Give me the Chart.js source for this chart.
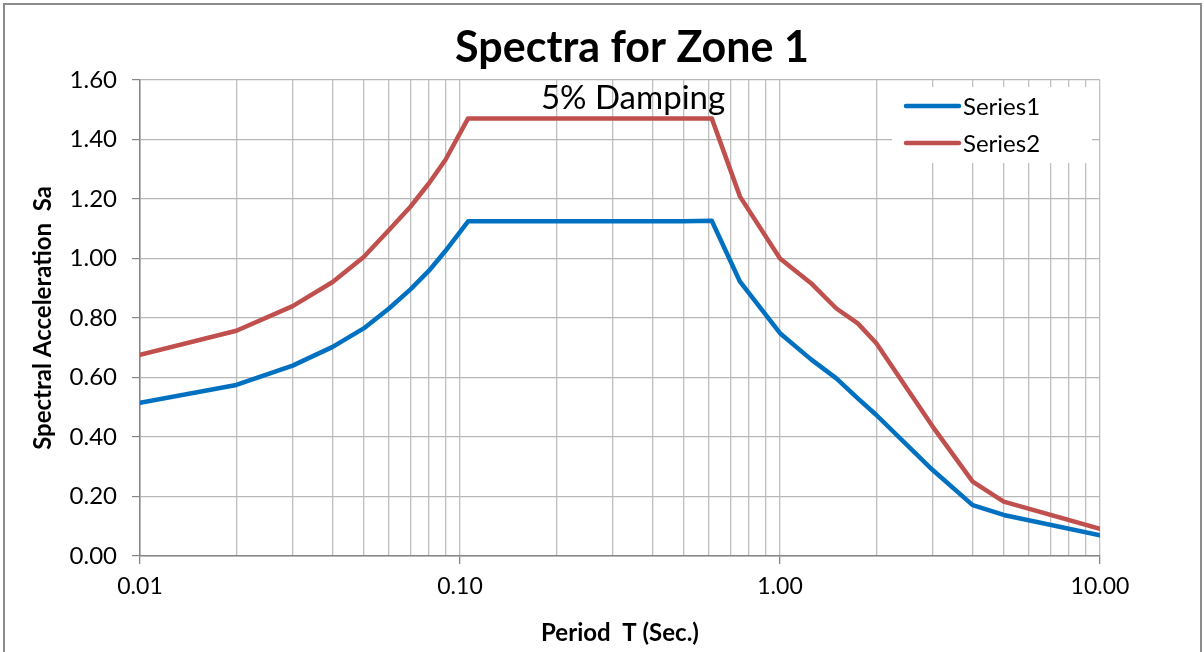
<!DOCTYPE html>
<html>
<head>
<meta charset="utf-8">
<script src="https://cdn.jsdelivr.net/npm/chart.js@4.4.1/dist/chart.umd.min.js"></script>
<style>
  html, body { margin: 0; padding: 0; background: #ffffff; }
  #wrap { position: relative; width: 1204px; height: 652px; }
  canvas { display: block; }
</style>
</head>
<body>
<div id="wrap"><canvas id="c" width="1204" height="652"></canvas></div>
<script>
// ---- Data ----
const periods = [0.01, 0.02, 0.03, 0.04, 0.05, 0.06, 0.07, 0.08, 0.09, 0.106, 0.2, 0.3, 0.4, 0.5, 0.612, 0.75, 1.0, 1.25, 1.5, 1.75, 2.0, 3.0, 4.0, 5.0, 10.0];
const series1 = [0.515, 0.575, 0.640, 0.703, 0.765, 0.832, 0.896, 0.959, 1.025, 1.125, 1.125, 1.125, 1.125, 1.125, 1.127, 0.922, 0.749, 0.661, 0.597, 0.530, 0.474, 0.289, 0.171, 0.138, 0.070];
const series2 = [0.676, 0.757, 0.840, 0.921, 1.005, 1.096, 1.174, 1.253, 1.331, 1.471, 1.471, 1.471, 1.471, 1.471, 1.471, 1.208, 1.000, 0.917, 0.832, 0.782, 0.715, 0.435, 0.250, 0.183, 0.091];
const seriesNames = ['Series1', 'Series2'];
const xTickValues = [0.01,0.02,0.03,0.04,0.05,0.06,0.07,0.08,0.09,
                     0.1,0.2,0.3,0.4,0.5,0.6,0.7,0.8,0.9,
                     1,2,3,4,5,6,7,8,9,10];
const xMajorTicks = [0.01, 0.1, 1, 10];
const titleText = 'Spectra for Zone 1';
const subtitleText = '5% Damping';
const xTitle = 'Period  T (Sec.)';
const yTitle = 'Spectral Acceleration  Sa';

const FONT = 'Lato, "Open Sans", sans-serif';
const colors = ['#0070C0', '#C0504D'];

function isMajor(v) { return xMajorTicks.some(m => Math.abs(m - v) < 1e-9); }

const framePlugin = {
  id: 'frame',
  beforeDraw(chart) {
    const ctx = chart.ctx;
    ctx.save();
    ctx.fillStyle = '#ffffff';
    ctx.fillRect(0, 0, chart.width, chart.height);
    ctx.strokeStyle = '#8c8c8c';
    ctx.lineWidth = 2;
    ctx.strokeRect(4, 4, 1197, 700);
    ctx.restore();
  },
  afterDraw(chart) {
    const ctx = chart.ctx;
    ctx.save();
    // title
    ctx.fillStyle = '#000000';
    ctx.font = 'bold 43px ' + FONT;
    ctx.textAlign = 'center';
    ctx.textBaseline = 'alphabetic';
    ctx.fillText(titleText, 632, 62);
    // subtitle
    ctx.font = '33px ' + FONT;
    ctx.fillText(subtitleText, 633, 109);
    // legend
    ctx.fillStyle = '#ffffff';
    ctx.fillRect(892, 87, 200, 76);
    const rows = [106, 143];
    seriesNames.forEach((name, i) => {
      ctx.strokeStyle = colors[i];
      ctx.lineWidth = 4.5;
      ctx.lineCap = 'round';
      ctx.beginPath();
      ctx.moveTo(906, rows[i]);
      ctx.lineTo(959, rows[i]);
      ctx.stroke();
      ctx.fillStyle = '#000000';
      ctx.font = '24px ' + FONT;
      ctx.textAlign = 'left';
      ctx.textBaseline = 'middle';
      ctx.fillText(name, 963, rows[i] + 1);
    });
    ctx.restore();
  }
};

const datasets = [series1, series2].map((vals, i) => ({
  label: seriesNames[i],
  data: periods.map((p, k) => ({ x: p, y: vals[k] })),
  borderColor: colors[i],
  backgroundColor: colors[i],
  borderWidth: 4.5,
  pointRadius: 0,
  tension: 0,
  fill: false,
  borderCapStyle: 'round',
  borderJoinStyle: 'round'
}));

new Chart(document.getElementById('c'), {
  type: 'line',
  data: { datasets },
  plugins: [framePlugin],
  options: {
    responsive: false,
    animation: false,
    devicePixelRatio: 1,
    layout: { padding: { left: 0, right: 104, top: 80, bottom: 0 } },
    plugins: {
      legend: { display: false },
      tooltip: { enabled: false },
      title: { display: false }
    },
    scales: {
      x: {
        type: 'logarithmic',
        min: 0.01,
        max: 10,
        afterBuildTicks(scale) {
          scale.ticks = xTickValues.map(v => ({ value: v, major: isMajor(v) }));
        },
        afterFit(scale) { scale.height = 96; },
        ticks: {
          autoSkip: false,
          maxRotation: 0,
          minRotation: 0,
          padding: 9,
          color: '#000000',
          font: { family: FONT, size: 23 },
          callback(value) { return isMajor(value) ? Number(value).toFixed(2) : ''; }
        },
        grid: {
          color: '#BFBFBF',
          lineWidth: 1.3,
          drawTicks: true,
          tickLength: 8,
          tickColor(ctx) { return ctx.tick && isMajor(ctx.tick.value) ? '#868686' : 'rgba(0,0,0,0)'; }
        },
        border: { display: true, color: '#868686', width: 1.5 },
        title: {
          display: true,
          text: xTitle,
          color: '#000000',
          font: { family: FONT, size: 24, weight: 'bold', lineHeight: 1.2 },
          padding: { top: 0, bottom: 4 }
        }
      },
      y: {
        type: 'linear',
        min: 0,
        max: 1.6,
        afterFit(scale) { scale.width = 140; },
        ticks: {
          stepSize: 0.2,
          padding: 15,
          color: '#000000',
          font: { family: FONT, size: 24 },
          callback(value) { return Number(value).toFixed(2); }
        },
        grid: {
          color: '#B8B8B8',
          lineWidth: 1.2,
          borderDash: [2, 2],
          drawTicks: true,
          tickLength: 8,
          tickColor: '#868686',
          tickBorderDash: []
        },
        border: { display: true, color: '#868686', width: 1.5 },
        title: {
          display: true,
          text: yTitle,
          color: '#000000',
          font: { family: FONT, size: 24, weight: 'bold', lineHeight: 1.2 },
          padding: { top: 29, bottom: 0 }
        }
      }
    }
  }
});
</script>
</body>
</html>
